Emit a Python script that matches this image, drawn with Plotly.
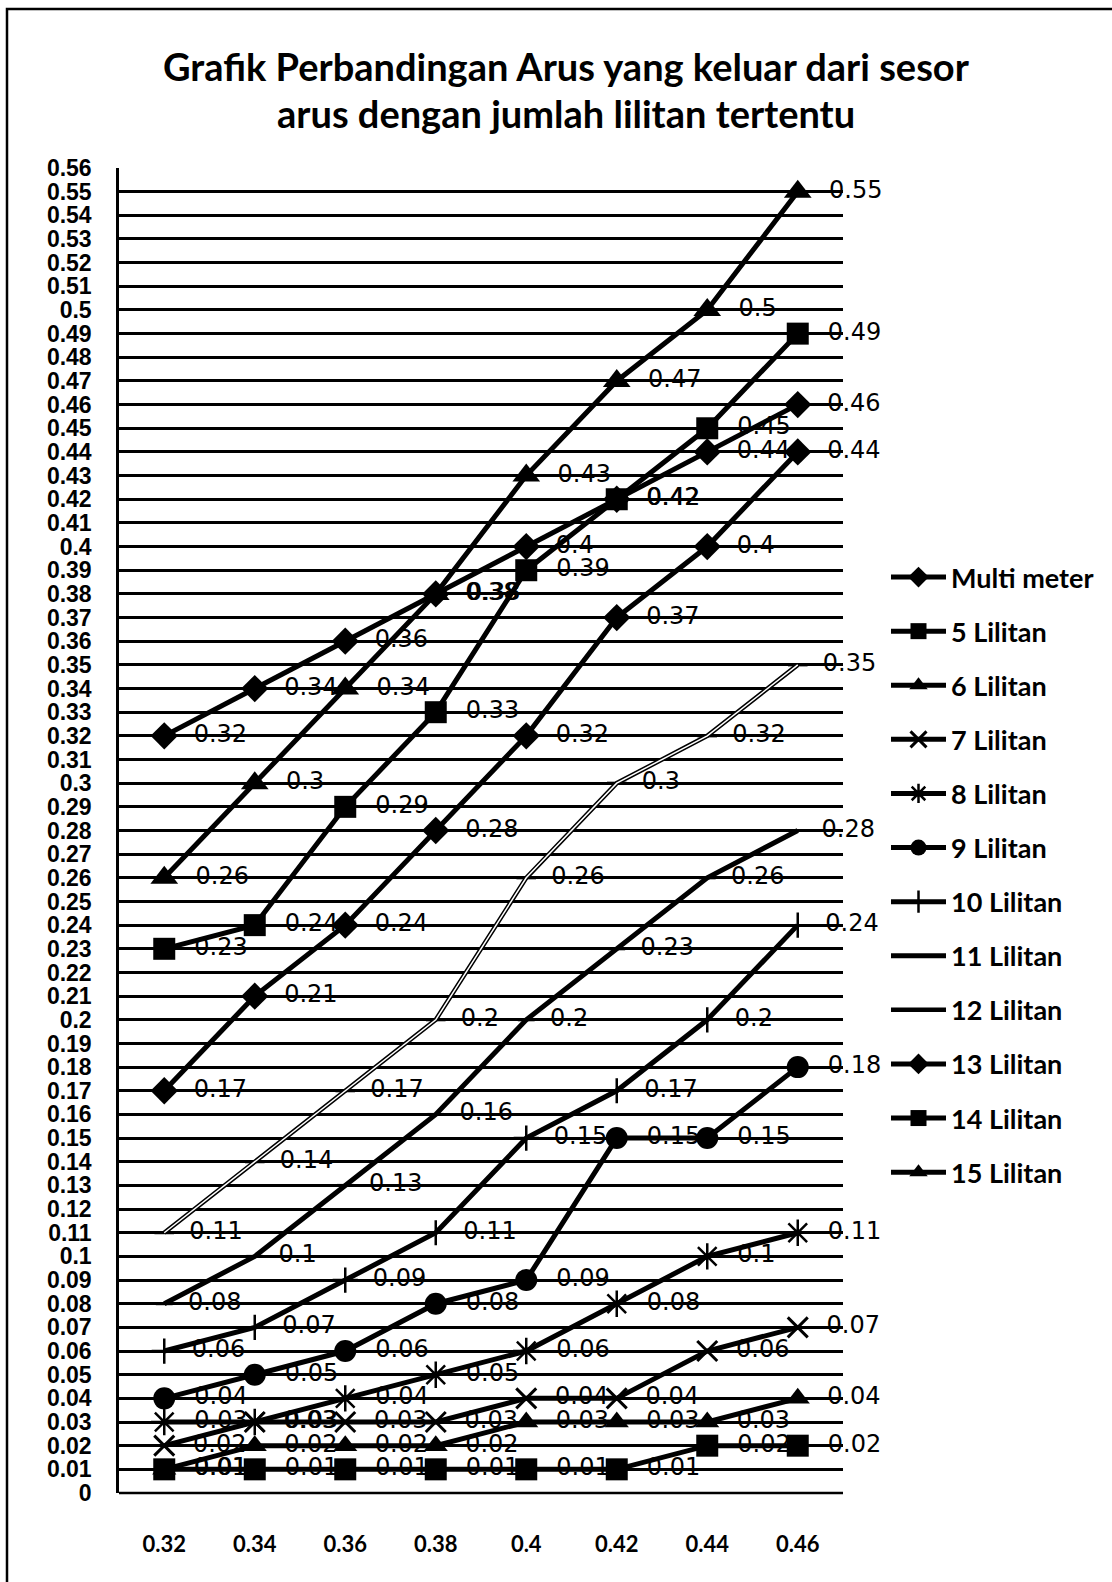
import plotly.graph_objects as go

# Category axis: current readings (A)
categories = ["0.32", "0.34", "0.36", "0.38", "0.4", "0.42", "0.44", "0.46"]

# Output current per winding count
multi_meter = [0.32, 0.34, 0.36, 0.38, 0.40, 0.42, 0.44, 0.46]
lilitan_5 = [0.01, 0.01, 0.01, 0.01, 0.01, 0.01, 0.02, 0.02]
lilitan_6 = [0.01, 0.02, 0.02, 0.02, 0.03, 0.03, 0.03, 0.04]
lilitan_7 = [0.02, 0.03, 0.03, 0.03, 0.04, 0.04, 0.06, 0.07]
lilitan_8 = [0.03, 0.03, 0.04, 0.05, 0.06, 0.08, 0.10, 0.11]
lilitan_9 = [0.04, 0.05, 0.06, 0.08, 0.09, 0.15, 0.15, 0.18]
lilitan_10 = [0.06, 0.07, 0.09, 0.11, 0.15, 0.17, 0.20, 0.24]
lilitan_11 = [0.08, 0.10, 0.13, 0.16, 0.20, 0.23, 0.26, 0.28]
lilitan_12 = [0.11, 0.14, 0.17, 0.20, 0.26, 0.30, 0.32, 0.35]
lilitan_13 = [0.17, 0.21, 0.24, 0.28, 0.32, 0.37, 0.40, 0.44]
lilitan_14 = [0.23, 0.24, 0.29, 0.33, 0.39, 0.42, 0.45, 0.49]
lilitan_15 = [0.26, 0.30, 0.34, 0.38, 0.43, 0.47, 0.50, 0.55]

y_ticks = [round(i * 0.01, 2) for i in range(57)]
y_tick_text = ["0" if v == 0 else f"{v:g}" for v in y_ticks]

series = [
    ("Multi meter", multi_meter, dict(symbol="diamond", size=21), 5),
    ("5 Lilitan", lilitan_5, dict(symbol="square", size=22), 5),
    ("6 Lilitan", lilitan_6, dict(symbol="triangle-up", size=21), 5),
    ("7 Lilitan", lilitan_7, dict(symbol="x-thin", size=20, line=dict(width=3, color="black")), 5),
    ("8 Lilitan", lilitan_8, dict(symbol="asterisk", size=22, line=dict(width=2.5, color="black")), 5),
    ("9 Lilitan", lilitan_9, dict(symbol="circle", size=22), 5),
    ("10 Lilitan", lilitan_10, dict(symbol="cross-thin", size=18, line=dict(width=2.5, color="black")), 5),
    ("11 Lilitan", lilitan_11, dict(symbol="line-ew", size=12, line=dict(width=3, color="black")), 5),
    ("12 Lilitan", lilitan_12, dict(symbol="line-ew", size=14, line=dict(width=3, color="black")), 4.5),
    ("13 Lilitan", lilitan_13, dict(symbol="diamond", size=21), 5),
    ("14 Lilitan", lilitan_14, dict(symbol="square", size=22), 5),
    ("15 Lilitan", lilitan_15, dict(symbol="triangle-up", size=24), 5),
]

label_font = dict(family="DejaVu Sans", size=24, color="black")

fig = go.Figure()
for i, (name, values, marker, lw) in enumerate(series):
    mk = dict(color="black")
    mk.update(marker)
    fig.add_trace(go.Scatter(
        x=categories, y=values, name=name,
        mode="lines+markers+text",
        line=dict(color="black", width=lw),
        marker=mk,
        texttemplate="\u00a0\u00a0%{y}",
        textposition="middle right",
        textfont=label_font,
        cliponaxis=False,
        legendgroup=f"g{i}",
        hoverinfo="skip",
    ))
    if name == "12 Lilitan":
        # light core of the 12-winding line (hollow look)
        fig.add_trace(go.Scatter(
            x=categories, y=values, mode="lines",
            line=dict(color="white", width=1.5),
            showlegend=False, legendgroup=f"g{i}", hoverinfo="skip",
        ))

W, H = 1112, 1582
L, R, T, B = 119, 843, 168, 1493
pw, ph = R - L, B - T


def px_x(x):
    return (x - L) / pw


def px_y(y):
    return 1 - (y - T) / ph


fig.update_layout(
    width=W, height=H,
    margin=dict(l=L, r=W - R, t=T, b=H - B, pad=0),
    paper_bgcolor="white", plot_bgcolor="white",
    showlegend=True,
    legend=dict(
        x=px_x(886), y=px_y(553), xanchor="left", yanchor="top",
        font=dict(family="Lato", size=27, color="black", weight="bold"),
        traceorder="grouped", tracegroupgap=16,
        bgcolor="rgba(0,0,0,0)", itemwidth=55,
    ),
    xaxis=dict(
        type="category", range=[-0.5, 7.5],
        showgrid=False, zeroline=False,
        showline=False, ticks="",
        tickfont=dict(family="Lato", size=22, color="black", weight="bold"),
        ticklabelstandoff=36,
    ),
    yaxis=dict(
        range=[0, 0.56], tickmode="array", tickvals=y_ticks, ticktext=y_tick_text,
        showgrid=True, gridcolor="black", gridwidth=2.5,
        zeroline=False, showline=True, linecolor="black", linewidth=2.5,
        ticks="",
        tickfont=dict(family="Liberation Sans", size=23, color="black", weight="bold"),
        ticklabelstandoff=20,
    ),
    annotations=[
        dict(text="Grafik Perbandingan Arus yang keluar dari sesor", xref="paper", yref="paper",
             x=px_x(566), y=px_y(66), xanchor="center", yanchor="middle", showarrow=False,
             font=dict(family="Lato", size=38, color="black", weight="bold")),
        dict(text="arus dengan jumlah lilitan tertentu", xref="paper", yref="paper",
             x=px_x(566), y=px_y(113), xanchor="center", yanchor="middle", showarrow=False,
             font=dict(family="Lato", size=38, color="black", weight="bold")),
    ],
    shapes=[
        # bottom axis line
        dict(type="line", xref="paper", yref="paper", x0=0, x1=1, y0=0, y1=0,
             line=dict(color="black", width=2.5)),
        # outer chart frame
        dict(type="rect", xref="paper", yref="paper",
             x0=px_x(7), x1=px_x(1125), y0=px_y(1595), y1=px_y(9),
             line=dict(color="black", width=2.5), layer="below"),
    ],
)

fig.write_html("out.html")
